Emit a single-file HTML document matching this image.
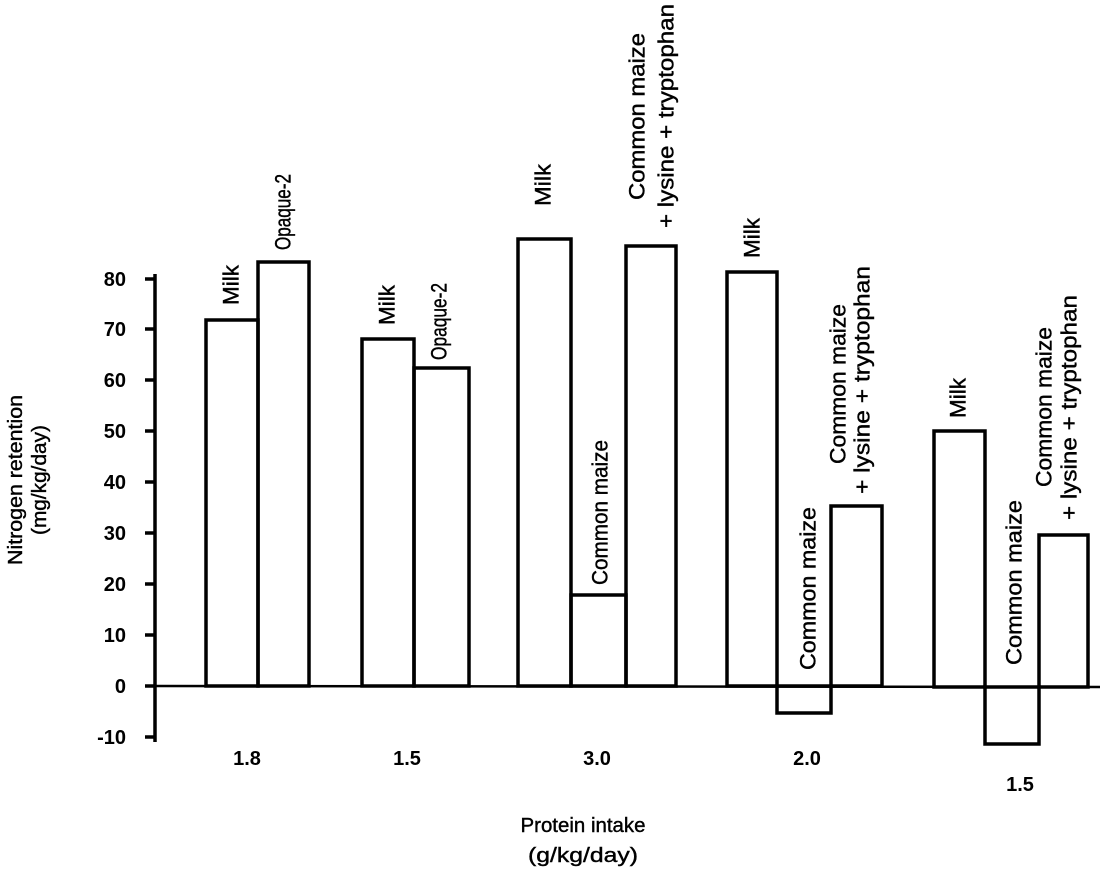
<!DOCTYPE html>
<html><head><meta charset="utf-8"><style>
html,body{margin:0;padding:0;background:#fff;}
svg{display:block;}
text{font-family:"Liberation Sans",Arial,sans-serif;fill:#000;}
</style></head><body>
<svg width="1110" height="872" viewBox="0 0 1110 872" xmlns="http://www.w3.org/2000/svg">
<g stroke="#000" stroke-width="3.5" fill="none">
<line x1="155" y1="274" x2="155" y2="742"/>
<line x1="145" y1="279" x2="155" y2="279"/>
<line x1="145" y1="329" x2="155" y2="329"/>
<line x1="145" y1="380" x2="155" y2="380"/>
<line x1="145" y1="431" x2="155" y2="431"/>
<line x1="145" y1="482" x2="155" y2="482"/>
<line x1="145" y1="533" x2="155" y2="533"/>
<line x1="145" y1="584" x2="155" y2="584"/>
<line x1="145" y1="635" x2="155" y2="635"/>
<line x1="145" y1="686" x2="155" y2="686"/>
<line x1="145" y1="737" x2="155" y2="737"/>
<line x1="155" y1="686" x2="1100" y2="687" stroke-width="2.5"/>
<rect x="206" y="320" width="52" height="366"/>
<rect x="258" y="262" width="51" height="424"/>
<rect x="362" y="339" width="52" height="347"/>
<rect x="414" y="368" width="55" height="318"/>
<rect x="518" y="239" width="53" height="447"/>
<rect x="571" y="595" width="55" height="91"/>
<rect x="626" y="246" width="50" height="440"/>
<rect x="727" y="272" width="50" height="414"/>
<rect x="777" y="686" width="54" height="27"/>
<rect x="831" y="506" width="51" height="180"/>
<rect x="934" y="431" width="51" height="256"/>
<rect x="985" y="687" width="54" height="57"/>
<rect x="1039" y="535" width="49" height="152"/>
</g>
<g font-size="20" font-weight="bold" text-anchor="end">
<text x="126" y="286">80</text>
<text x="126" y="336">70</text>
<text x="126" y="387">60</text>
<text x="126" y="438">50</text>
<text x="126" y="489">40</text>
<text x="126" y="540">30</text>
<text x="126" y="591">20</text>
<text x="126" y="642">10</text>
<text x="126" y="693">0</text>
<text x="126" y="744">-10</text>
</g>
<g font-size="20" font-weight="bold" text-anchor="middle">
<text x="247" y="765">1.8</text>
<text x="407" y="765">1.5</text>
<text x="597" y="765">3.0</text>
<text x="807" y="765">2.0</text>
<text x="1020" y="791">1.5</text>
</g>
<g font-size="20" text-anchor="middle" stroke="#000" stroke-width="0.4">
<text x="583" y="832" textLength="125" lengthAdjust="spacingAndGlyphs">Protein intake</text>
<text x="583" y="862" textLength="110" lengthAdjust="spacingAndGlyphs">(g/kg/day)</text>
<text transform="translate(22,480) rotate(-90)" textLength="170" lengthAdjust="spacingAndGlyphs">Nitrogen retention</text>
<text transform="translate(46,480) rotate(-90)" textLength="110" lengthAdjust="spacingAndGlyphs">(mg/kg/day)</text>
</g>
<g font-size="22" dominant-baseline="central" stroke="#000" stroke-width="0.4">
<text transform="translate(231,305) rotate(-90)" textLength="40" lengthAdjust="spacingAndGlyphs">Milk</text>
<text transform="translate(283,250) rotate(-90)" textLength="76" lengthAdjust="spacingAndGlyphs">Opaque-2</text>
<text transform="translate(387,325) rotate(-90)" textLength="40" lengthAdjust="spacingAndGlyphs">Milk</text>
<text transform="translate(439,360) rotate(-90)" textLength="77" lengthAdjust="spacingAndGlyphs">Opaque-2</text>
<text transform="translate(543,206) rotate(-90)" textLength="42" lengthAdjust="spacingAndGlyphs">Milk</text>
<text transform="translate(600,585) rotate(-90)" textLength="145" lengthAdjust="spacingAndGlyphs">Common maize</text>
<text transform="translate(637,200) rotate(-90)" textLength="167" lengthAdjust="spacingAndGlyphs">Common maize</text>
<text transform="translate(666,228) rotate(-90)" textLength="224" lengthAdjust="spacingAndGlyphs">+ lysine + tryptophan</text>
<text transform="translate(752,258) rotate(-90)" textLength="40" lengthAdjust="spacingAndGlyphs">Milk</text>
<text transform="translate(808,670) rotate(-90)" textLength="163" lengthAdjust="spacingAndGlyphs">Common maize</text>
<text transform="translate(838,464) rotate(-90)" textLength="160" lengthAdjust="spacingAndGlyphs">Common maize</text>
<text transform="translate(862,494) rotate(-90)" textLength="228" lengthAdjust="spacingAndGlyphs">+ lysine + tryptophan</text>
<text transform="translate(958,418) rotate(-90)" textLength="40" lengthAdjust="spacingAndGlyphs">Milk</text>
<text transform="translate(1014,665) rotate(-90)" textLength="165" lengthAdjust="spacingAndGlyphs">Common maize</text>
<text transform="translate(1044,487) rotate(-90)" textLength="160" lengthAdjust="spacingAndGlyphs">Common maize</text>
<text transform="translate(1069,520) rotate(-90)" textLength="225" lengthAdjust="spacingAndGlyphs">+ lysine + tryptophan</text>
</g>
</svg>
</body></html>
